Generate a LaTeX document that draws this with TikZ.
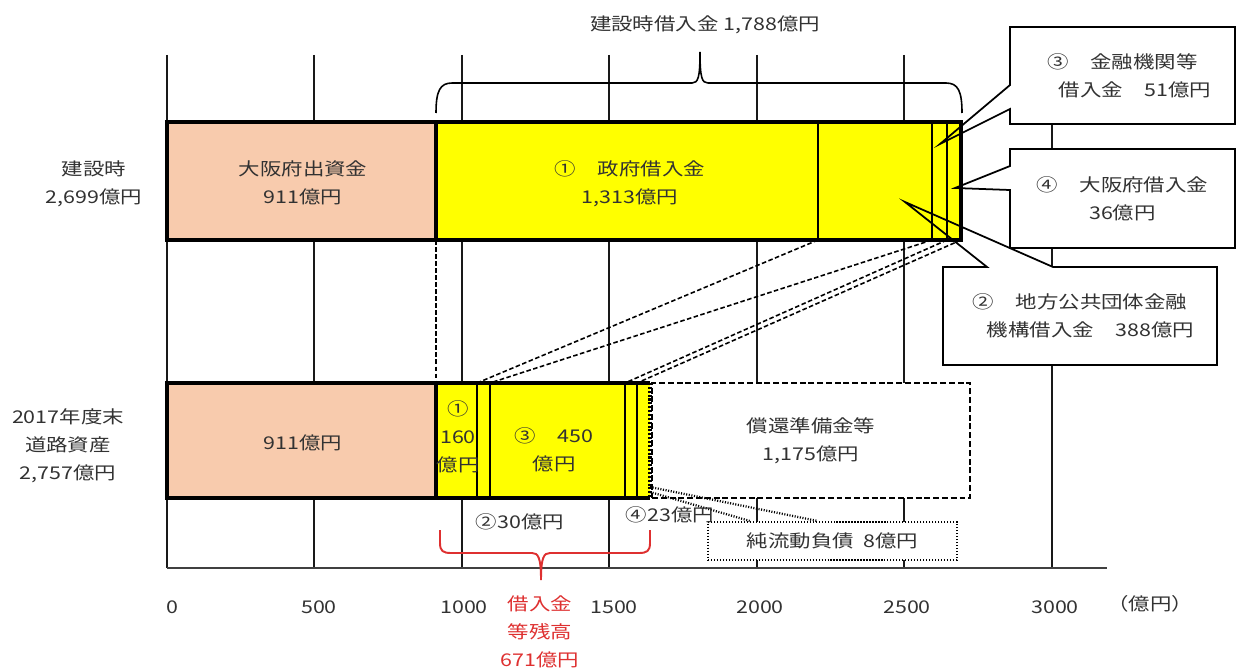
\documentclass[tikz,border=0pt]{standalone}
\usepackage{fontspec}
\setmainfont{Noto Sans CJK JP}[FakeStretch=1.22]
\usepackage{tikz}
\usetikzlibrary{calc}

\definecolor{peach}{RGB}{248,203,173}
\definecolor{barYellow}{RGB}{255,255,0}
\definecolor{remRed}{RGB}{222,48,48}
\definecolor{txtGray}{RGB}{50,50,50}

\tikzset{
  grid line/.style={line width=1.1pt,black!90},
  bar edge/.style={line width=2.3pt},
  seg line/.style={line width=0.8pt},
  lbl/.style={align=center,text=txtGray,font=\fontsize{10}{16}\selectfont,inner sep=0pt},
  link/.style={line width=0.9pt,dash pattern=on 2.6pt off 1.4pt},
  note line/.style={line width=1.3pt,dash pattern=on 0.6pt off 0.9pt},
  callbox/.style={lbl,fill=white,outer sep=0pt},
  call line/.style={line width=1pt,line join=miter},
}

\begin{document}
\begin{tikzpicture}[x=0.02cm,y=-0.02cm]
\useasboundingbox (0,0) rectangle (1237,672);

\foreach \gx in {167,314,462,609,757,904,1052}
  \draw[grid line] (\gx,55) -- (\gx,568);
\draw[grid line,black!75] (167,568) -- (1107,568);

\foreach \gx/\gv in {172/0,319/500,464/1000,614/1500,760/2000,907/2500,1055/3000}
  \node[lbl] (tick\gv) at (\gx,607) {\gv};
\node[lbl] (unit) at (1150,604) {（億円）};

% top bar
\fill[peach] (167,122) rectangle (436,240);
\fill[barYellow] (436,122) rectangle (961,240);
\foreach \sx in {818,932,947}
  \draw[seg line] (\sx,122) -- (\sx,240);
\draw[bar edge] (167,122) rectangle (961,240);
\draw[bar edge] (436,122) -- (436,240);

% bottom bar
\node[draw,fill=white,line width=1.4pt,dash pattern=on 3.4pt off 1.6pt,minimum width=6.36cm,minimum height=2.3cm,lbl] (reserve) at (811,440.5) {償還準備金等\\1,175億円};
\fill[peach] (167,383) rectangle (436,498);
\fill[barYellow] (436,383) rectangle (650,498);
\foreach \sx in {477,490,625,637}
  \draw[seg line] (\sx,383) -- (\sx,498);
\draw[bar edge] (650,383) -- (167,383) -- (167,498) -- (650,498);
\draw[bar edge] (436,383) -- (436,498);
\draw[bar edge,dash pattern=on 1.2pt off 1pt] (650,383) -- (650,498);

\node[draw,fill=white,line width=1.2pt,dash pattern=on 0.7pt off 1pt,minimum width=4.98cm,minimum height=0.76cm,lbl] (netliab) at (832.5,541) {純流動負債\ \ 8億円};

% links between bars
\coordinate (t0) at (436,240); \coordinate (b0) at (436,383);
\coordinate (t1) at (818,240); \coordinate (b1) at (477,383);
\coordinate (t2) at (932,240); \coordinate (b2) at (490,383);
\coordinate (t3) at (947,240); \coordinate (b3) at (625,383);
\coordinate (t4) at (961,240); \coordinate (b4) at (637,383);
\foreach \k in {0,...,4}
  \draw[link] (t\k) -- (b\k);

\coordinate (liabA) at (650,487);
\coordinate (liabB) at (650,492);
\draw[note line] (liabA) -- ($(netliab.north west)!0.44!(netliab.north east)$);
\draw[note line] (liabB) -- ($(netliab.north west)!0.17!(netliab.north east)$);

% bar texts
\node[lbl] (toprow) at (94,184) {建設時\\2,699億円};
\node[lbl] (botrow) at (68,446) {2017年度末\\道路資産\\2,757億円};
\node[lbl] (topfund) at (303,183) {大阪府出資金\\911億円};
\node[lbl] (botfund) at (303,443) {911億円};
\node[lbl] (topgov) at (630,184) {①　政府借入金\\1,313億円};
\node[lbl] (botgov) at (458,437) {①\\160\\億円};
\node[lbl] (botbank) at (554,450) {③　450\\億円};
\node[lbl] (botjfm) at (520,522) {②30億円};
\node[lbl] (botpref) at (670,515) {④23億円};

% braces
\draw[line width=0.9pt] (436,113) .. controls (436,91) and (440,83) .. (452,83) -- (692,83)
  .. controls (698,83) and (700,78) .. (700,52) .. controls (700,78) and (702,83) .. (708,83)
  -- (946,83) .. controls (958,83) and (962,91) .. (962,113);
\node[lbl] (loancap) at (705,25) {建設時借入金 1,788億円};

\draw[remRed,line width=1.1pt] (440,530) -- (440,543) .. controls (440,551) and (443,553) .. (451,553)
  -- (532,553) .. controls (538,553) and (541,557) .. (541,580) .. controls (541,557) and (544,553) .. (550,553)
  -- (639,553) .. controls (647,553) and (650,551) .. (650,543) -- (650,530);
\node[lbl,text=remRed] (remain) at (540,632) {借入金\\等残高\\671億円};

% callouts
\coordinate (tip3) at (940,144);
\coordinate (tip4) at (955,188);
\coordinate (tip2) at (905,202);

\node[callbox,minimum width=4.5cm,minimum height=1.94cm] (call3) at (1122.5,75.5) {③　金融機関等\\\hspace{1.4em}借入金　51億円};
\draw[call line] (call3.north west) -- (call3.north east) -- (call3.south east) -- (call3.south west)
  -- ($(call3.south west)+(0,-15)$) -- (tip3) -- ($(call3.north west)+(0,58)$) -- cycle;

\node[callbox,minimum width=4.5cm,minimum height=1.98cm] (call4) at (1122.5,198.5) {④　大阪府借入金\\36億円};
\draw[call line] (call4.north west) -- (call4.north east) -- (call4.south east) -- (call4.south west)
  -- ($(call4.north west)+(0,41)$) -- (tip4) -- ($(call4.north west)+(0,17)$) -- cycle;

\node[callbox,minimum width=5.48cm,minimum height=1.96cm] (call2) at (1080,316) {②　地方公共団体金融\\\hspace{1.2em}機構借入金　388億円};
\draw[call line] (call2.north west) -- ($(call2.north west)+(44,0)$) -- (tip2) -- ($(call2.north west)+(110,0)$)
  -- (call2.north east) -- (call2.south east) -- (call2.south west) -- cycle;
\end{tikzpicture}
\end{document}
